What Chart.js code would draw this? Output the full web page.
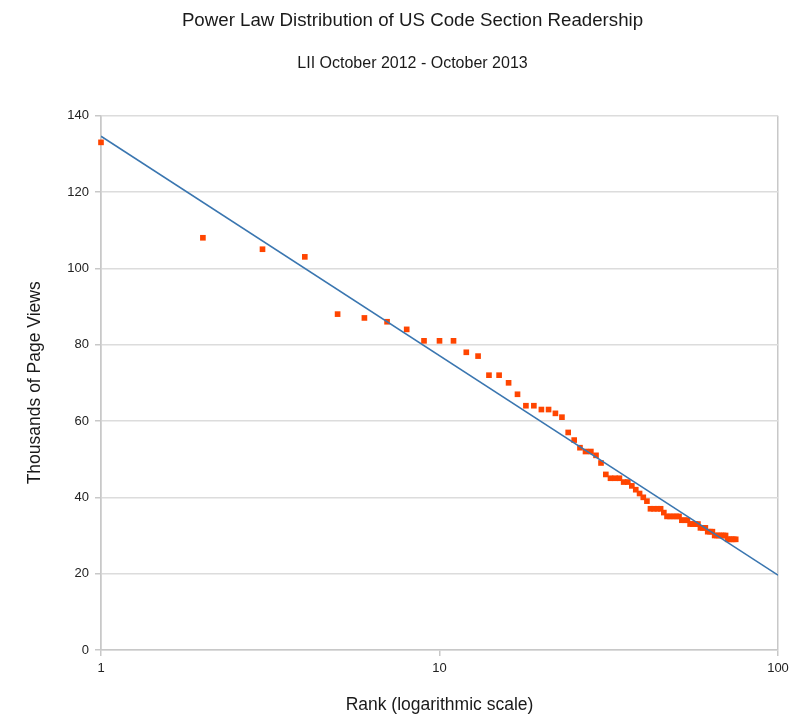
<!DOCTYPE html>
<html>
<head>
<meta charset="utf-8">
<title>Power Law Distribution of US Code Section Readership</title>
<script src="https://cdn.jsdelivr.net/npm/chart.js@4.4.1/dist/chart.umd.min.js"></script>
<style>
  html, body { margin: 0; padding: 0; background: #fff; }
  #wrap { width: 805px; height: 716px; }
</style>
</head>
<body>
<div id="wrap"><canvas id="power-chart" width="805" height="716"></canvas></div>
<script>
// ---- DATA ----
const RANKS = [
  1, 2, 3, 4, 5, 6, 7, 8, 9, 10,
  11, 12, 13, 14, 15, 16, 17, 18, 19, 20,
  21, 22, 23, 24, 25, 26, 27, 28, 29, 30,
  31, 32, 33, 34, 35, 36, 37, 38, 39, 40,
  41, 42, 43, 44, 45, 46, 47, 48, 49, 50,
  51, 52, 53, 54, 55, 56, 57, 58, 59, 60,
  61, 62, 63, 64, 65, 66, 67, 68, 69, 70,
  71, 72, 73, 74, 75,
];
// thousands of page views per section
const VIEWS = [
  133, 108, 105, 103, 88, 87, 86, 84, 81, 81,
  81, 78, 77, 72, 72, 70, 67, 64, 64, 63,
  63, 62, 61, 57, 55, 53, 52, 52, 51, 49,
  46, 45, 45, 45, 44, 44, 43, 42, 41, 40,
  39, 37, 37, 37, 37, 36, 35, 35, 35, 35,
  35, 34, 34, 34, 33, 33, 33, 33, 32, 32,
  32, 31, 31, 31, 30, 30, 30, 30, 30, 30,
  29, 29, 29, 29, 29,
];
// logarithmic trend line end points
const TREND_X = [1, 100];
const TREND_Y = [134.6, 19.6];

const X_TICKS = [1, 10, 100];
const Y_MIN = 0;
const Y_MAX = 140;
const Y_STEP = 20;

const FONT = "'Liberation Sans', Arial, Helvetica, sans-serif";

// ---- CHART ----
const ctx = document.getElementById('power-chart').getContext('2d');

new Chart(ctx, {
  type: 'scatter',
  data: {
    datasets: [
      {
        label: 'Trend',
        data: TREND_X.map((x, i) => ({ x, y: TREND_Y[i] })),
        showLine: true,
        borderColor: '#3a76b0',
        borderWidth: 1.5,
        pointRadius: 0,
        fill: false,
      },
      {
        label: 'Page views',
        data: RANKS.map((r, i) => ({ x: r, y: VIEWS[i] })),
        clip: false,
        pointStyle: 'rect',
        pointRadius: 4,
        pointBorderWidth: 0,
        backgroundColor: '#ff4500',
        borderColor: '#ff4500',
      },
    ],
  },
  options: {
    responsive: false,
    animation: false,
    // left padding shifts the centred titles the way the original sits
    layout: { padding: { top: 0, left: 20, right: 0, bottom: 0 } },
    plugins: {
      legend: { display: false },
      tooltip: { enabled: false },
      title: {
        display: true,
        text: 'Power Law Distribution of US Code Section Readership',
        color: '#1a1a1a',
        font: { family: FONT, size: 18.7, weight: 'normal' },
        padding: { top: 9.5, bottom: 22.5 },
      },
      subtitle: {
        display: true,
        text: 'LII October 2012 - October 2013',
        color: '#1a1a1a',
        font: { family: FONT, size: 16, weight: 'normal' },
        padding: { top: 0, bottom: 42 },
      },
    },
    scales: {
      x: {
        type: 'logarithmic',
        min: 1,
        max: 100,
        afterBuildTicks(scale) {
          scale.ticks = X_TICKS.map(v => ({ value: v }));
        },
        afterFit(scale) {
          scale.height = 66;
          scale.paddingRight = 27;
        },
        ticks: {
          color: '#222',
          font: { family: FONT, size: 13 },
          padding: 5,
          autoSkip: false,
          maxRotation: 0,
          callback(value) { return String(value); },
        },
        grid: {
          color(c) { return c.tick && c.tick.value === 10 ? 'rgba(0,0,0,0)' : '#c8c8c8'; },
          tickColor: '#c8c8c8',
          tickLength: 6,
          lineWidth: 1.5,
        },
        border: { color: '#c8c8c8', width: 1.5 },
        title: {
          display: true,
          text: 'Rank (logarithmic scale)',
          color: '#1a1a1a',
          font: { family: FONT, size: 17.5 },
          padding: { top: 0, bottom: 0 },
        },
      },
      y: {
        min: Y_MIN,
        max: Y_MAX,
        afterFit(scale) {
          scale.width = 81;
        },
        ticks: {
          stepSize: Y_STEP,
          color: '#222',
          font: { family: FONT, size: 13 },
          padding: 6,
        },
        grid: {
          color: '#dcdcdc',
          tickColor: '#c8c8c8',
          tickLength: 6,
          lineWidth: 1.5,
        },
        border: { color: '#c8c8c8', width: 1.5 },
        title: {
          display: true,
          text: 'Thousands of Page Views',
          color: '#1a1a1a',
          font: { family: FONT, size: 17.5 },
          padding: { top: 5, bottom: 0 },
        },
      },
    },
  },
});
</script>
</body>
</html>
